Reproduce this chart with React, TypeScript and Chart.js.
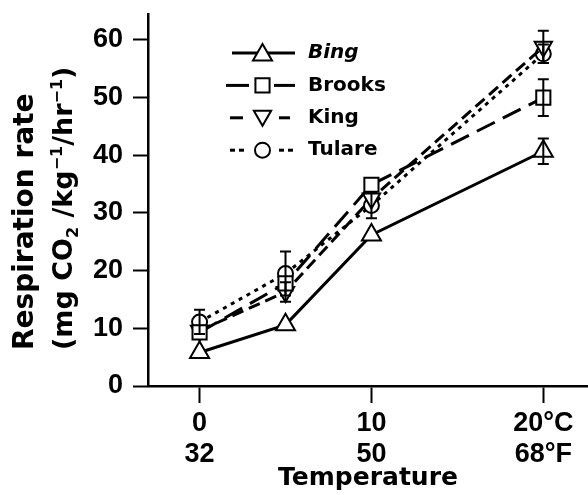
import React, { useEffect, useRef } from 'react';
import { Chart, registerables } from 'chart.js';

Chart.register(...registerables);

// ---- data ----
const temperatures = [0, 5, 10, 20];
const seriesNames = ['Bing', 'Brooks', 'King', 'Tulare'];
const bingRate = [5.8, 10.6, 26.2, 40.7];
const brooksRate = [9.3, 17.8, 34.9, 50.0];
const kingRate = [9.6, 16.3, 32.5, 58.8];
const tulareRate = [11.1, 19.5, 31.3, 57.6];
const bingErr = [0, 0, 0, 2.2];
const brooksErr = [0, 0, 0, 3.2];
const kingErr = [0, 1.7, 0, 2.8];
const tulareErr = [2.1, 3.8, 2.2, 1.6];
const xTickValues = [0, 10, 20];
const xTickLabels = [['0', '32'], ['10', '50'], ['20°C', '68°F']];
const yTickValues = [0, 10, 20, 30, 40, 50, 60];
const xTitle = 'Temperature';
const yTitleLine1 = 'Respiration rate';
const yTitleLine2 = [
  { t: '(mg CO', k: 'n' },
  { t: '2', k: 'sub' },
  { t: ' /kg', k: 'n' },
  { t: '−1', k: 'sup' },
  { t: '/hr', k: 'n' },
  { t: '−1', k: 'sup' },
  { t: ')', k: 'n' },
];

const rates = [bingRate, brooksRate, kingRate, tulareRate];
const errs = [bingErr, brooksErr, kingErr, tulareErr];

// ---- styles ----
const WORD_FONT = "'DejaVu Sans', sans-serif";
const NUM_FONT = "'Liberation Sans', Arial, sans-serif";
const styles = [
  { pointStyle: 'triangle', radius: 11, rotation: 0, dash: [] as number[], italic: true,
    legendSegs: [[232, 295]] },
  { pointStyle: 'rect', radius: 10, rotation: 0, dash: [20, 9], italic: false,
    legendSegs: [[226, 249], [274, 295]] },
  { pointStyle: 'triangle', radius: 10, rotation: 180, dash: [12, 6], italic: false,
    legendSegs: [[230, 243], [279, 290]] },
  { pointStyle: 'circle', radius: 7.5, rotation: 0, dash: [4, 5], italic: false,
    legendSegs: [[230, 235], [239, 244], [279, 284], [288, 293]] },
];

function drawMarker(ctx: CanvasRenderingContext2D, st: any, x: number, y: number) {
  const r = st.radius;
  ctx.beginPath();
  if (st.pointStyle === 'circle') {
    ctx.arc(x, y, r, 0, Math.PI * 2);
  } else if (st.pointStyle === 'rect') {
    const s = r * Math.SQRT1_2;
    ctx.rect(x - s, y - s, 2 * s, 2 * s);
  } else {
    let rad = (st.rotation * Math.PI) / 180;
    ctx.moveTo(x + Math.sin(rad) * r, y - Math.cos(rad) * r);
    rad += (2 * Math.PI) / 3;
    ctx.lineTo(x + Math.sin(rad) * r, y - Math.cos(rad) * r);
    rad += (2 * Math.PI) / 3;
    ctx.lineTo(x + Math.sin(rad) * r, y - Math.cos(rad) * r);
    ctx.closePath();
  }
  ctx.setLineDash([]);
  ctx.fillStyle = '#fff';
  ctx.fill();
  ctx.lineWidth = 2;
  ctx.strokeStyle = '#000';
  ctx.stroke();
}

const errorBarPlugin = {
  id: 'errorBars',
  afterDatasetsDraw(chart: any) {
    const ctx = chart.ctx as CanvasRenderingContext2D;
    const xs = chart.scales.x;
    const ys = chart.scales.y;
    ctx.save();
    ctx.strokeStyle = '#000';
    ctx.lineWidth = 2;
    ctx.setLineDash([]);
    errs.forEach((arr, i) => {
      arr.forEach((e, j) => {
        if (!e) return;
        const x = xs.getPixelForValue(temperatures[j]);
        const yt = ys.getPixelForValue(rates[i][j] + e);
        const yb = ys.getPixelForValue(rates[i][j] - e);
        ctx.beginPath();
        ctx.moveTo(x, yt);
        ctx.lineTo(x, yb);
        ctx.moveTo(x - 5.5, yt);
        ctx.lineTo(x + 5.5, yt);
        ctx.moveTo(x - 5.5, yb);
        ctx.lineTo(x + 5.5, yb);
        ctx.stroke();
      });
    });
    ctx.restore();
  },
};

const decorPlugin = {
  id: 'decor',
  afterDraw(chart: any) {
    const ctx = chart.ctx as CanvasRenderingContext2D;
    ctx.save();
    ctx.fillStyle = '#000';
    // legend
    seriesNames.forEach((name, i) => {
      const st = styles[i];
      const y = 53 + i * 32.4;
      ctx.strokeStyle = '#000';
      ctx.lineWidth = 3;
      ctx.setLineDash([]);
      ctx.lineCap = 'butt';
      st.legendSegs.forEach(([a, b]) => {
        ctx.beginPath();
        ctx.moveTo(a, y);
        ctx.lineTo(b, y);
        ctx.stroke();
      });
      drawMarker(ctx, st, 262.5, y + (st.pointStyle === 'triangle' ? (st.rotation ? -2 : 2) : 0));
      ctx.fillStyle = '#000';
      ctx.font = `${st.italic ? 'italic ' : ''}bold 20px ${WORD_FONT}`;
      ctx.textAlign = 'left';
      ctx.textBaseline = 'middle';
      ctx.fillText(name, 308, y);
    });
    // y title line 1
    ctx.save();
    ctx.translate(33, 350);
    ctx.rotate(-Math.PI / 2);
    ctx.font = `bold 28px ${WORD_FONT}`;
    ctx.textAlign = 'left';
    ctx.textBaseline = 'alphabetic';
    ctx.fillText(yTitleLine1, 0, 0);
    ctx.restore();
    // y title line 2
    ctx.save();
    ctx.translate(72, 350);
    ctx.rotate(-Math.PI / 2);
    ctx.textAlign = 'left';
    ctx.textBaseline = 'alphabetic';
    let cx = 0;
    yTitleLine2.forEach((seg) => {
      const small = seg.k !== 'n';
      ctx.font = `bold ${small ? 16 : 27}px ${WORD_FONT}`;
      const dy = seg.k === 'sub' ? 6 : seg.k === 'sup' ? -10 : 0;
      ctx.fillText(seg.t, cx, dy);
      cx += ctx.measureText(seg.t).width;
    });
    ctx.restore();
    ctx.restore();
  },
};

export default function App() {
  const ref = useRef<HTMLCanvasElement | null>(null);
  useEffect(() => {
    if (!ref.current) return;
    const datasets = seriesNames.map((name, i) => ({
      label: name,
      data: temperatures.map((t, j) => ({ x: t, y: rates[i][j] })),
      borderColor: '#000',
      borderWidth: 3,
      borderDash: styles[i].dash,
      borderCapStyle: 'butt' as const,
      tension: 0,
      fill: false,
      pointStyle: styles[i].pointStyle as any,
      pointRadius: styles[i].radius,
      pointRotation: styles[i].rotation,
      pointBackgroundColor: '#fff',
      pointBorderColor: '#000',
      pointBorderWidth: 2,
    }));
    const chart = new Chart(ref.current, {
      type: 'line',
      data: { datasets },
      options: {
        animation: false,
        responsive: false,
        layout: { autoPadding: false, padding: { top: 14, right: 0, bottom: 0, left: 0 } },
        plugins: { legend: { display: false }, tooltip: { enabled: false } },
        scales: {
          x: {
            type: 'linear',
            min: -3,
            max: 22.6,
            afterBuildTicks: (s: any) => {
              s.ticks = xTickValues.map((v) => ({ value: v }));
            },
            afterFit: (s: any) => {
              s.height = 109;
              s.paddingLeft = 0;
              s.paddingRight = 0;
            },
            ticks: {
              callback: (v: any) => xTickLabels[xTickValues.indexOf(Number(v))] ?? '',
              font: { family: NUM_FONT, weight: 'bold', size: 27, lineHeight: 1.15 },
              color: '#000',
              padding: 5,
              maxRotation: 0,
              autoSkip: false,
            },
            grid: { drawOnChartArea: false, drawTicks: true, tickLength: 17, tickColor: '#000', tickWidth: 2 },
            border: { color: '#000', width: 2.5 },
            title: {
              display: true,
              text: xTitle,
              color: '#000',
              font: { family: WORD_FONT, weight: 'bold', size: 25, lineHeight: 1 },
              padding: { top: 0, bottom: 4 },
            },
          },
          y: {
            type: 'linear',
            min: 0,
            max: 64.5,
            afterBuildTicks: (s: any) => {
              s.ticks = yTickValues.map((v) => ({ value: v }));
            },
            afterFit: (s: any) => {
              s.width = 148;
              s.paddingTop = 0;
              s.paddingBottom = 0;
            },
            ticks: {
              font: { family: NUM_FONT, weight: 'bold', size: 27, lineHeight: 1 },
              color: '#000',
              padding: 10,
            },
            grid: { drawOnChartArea: false, drawTicks: true, tickLength: 15, tickColor: '#000', tickWidth: 2 },
            border: { color: '#000', width: 2.5 },
          },
        },
      },
      plugins: [errorBarPlugin, decorPlugin],
    });
    return () => chart.destroy();
  }, []);
  return (
    <div style={{ position: 'fixed', left: 0, top: 0, width: 588, height: 495, background: '#fff' }}>
      <canvas ref={ref} width={588} height={495} style={{ width: 588, height: 495, display: 'block' }} />
    </div>
  );
}
